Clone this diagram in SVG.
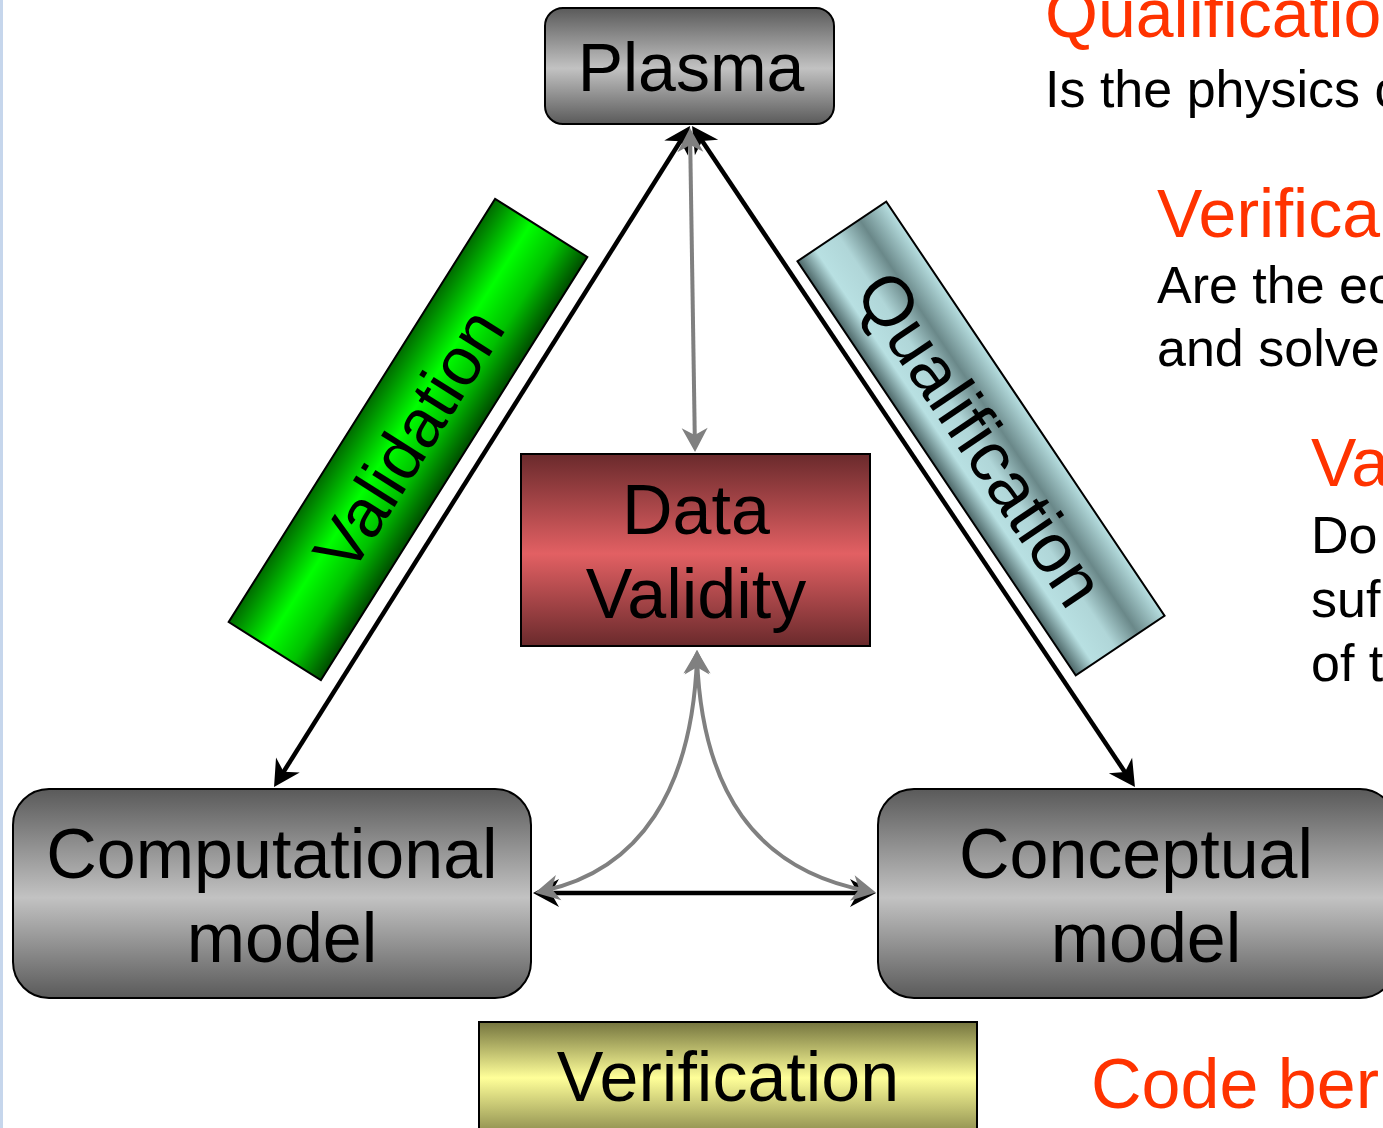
<svg xmlns="http://www.w3.org/2000/svg" width="1383" height="1128" viewBox="0 0 1383 1128">
  <style>
    text { font-family: "Liberation Sans", Arial, sans-serif; }
    .label { font-size: 70px; text-anchor: middle; fill: #000; }
    .box { stroke: #000; stroke-width: 2; }
    .title { font-size: 68px; fill: #ff3300; }
    .body { font-size: 52px; fill: #000; }
    .link { fill: none; stroke: #000; stroke-width: 4.5; marker-start: url(#headBlack); marker-end: url(#headBlack); }
    .flow { fill: none; stroke: #808080; stroke-width: 4; marker-start: url(#headGray); marker-end: url(#headGray); }
  </style>
  <defs>
    <linearGradient id="gradGray" x1="0" y1="0" x2="0" y2="1">
      <stop offset="0" stop-color="#5a5a5a"/>
      <stop offset="0.52" stop-color="#c2c2c2"/>
      <stop offset="1" stop-color="#5a5a5a"/>
    </linearGradient>
    <linearGradient id="gradRed" x1="0" y1="0" x2="0" y2="1">
      <stop offset="0" stop-color="#6a2a2c"/>
      <stop offset="0.52" stop-color="#e26063"/>
      <stop offset="1" stop-color="#6a2a2c"/>
    </linearGradient>
    <linearGradient id="gradYellow" x1="0" y1="0" x2="0" y2="1">
      <stop offset="0" stop-color="#74743e"/>
      <stop offset="0.45" stop-color="#ffff99"/>
      <stop offset="1" stop-color="#74743e"/>
    </linearGradient>
    <linearGradient id="gradGreen" x1="0" y1="0" x2="0" y2="1">
      <stop offset="0" stop-color="#006a00"/>
      <stop offset="0.4" stop-color="#00ff00"/>
      <stop offset="0.7" stop-color="#00c000"/>
      <stop offset="1" stop-color="#004c00"/>
    </linearGradient>
    <linearGradient id="gradTeal" x1="0" y1="0" x2="0" y2="1">
      <stop offset="0" stop-color="#b8e0e2"/>
      <stop offset="0.3" stop-color="#6a8889"/>
      <stop offset="0.55" stop-color="#b0d6d8"/>
      <stop offset="0.8" stop-color="#b8e0e2"/>
      <stop offset="1" stop-color="#4c6667"/>
    </linearGradient>
    <marker id="headBlack" viewBox="-28 -16 38 32" markerWidth="38" markerHeight="32" refX="-8" refY="0" orient="auto-start-reverse" markerUnits="userSpaceOnUse">
      <path d="M0,0 L-26,-14 L-18,0 L-26,14 Z" fill="#000"/>
    </marker>
    <marker id="headGray" viewBox="-28 -16 38 32" markerWidth="38" markerHeight="32" refX="-8" refY="0" orient="auto-start-reverse" markerUnits="userSpaceOnUse">
      <path d="M0,0 L-24,-13 L-17,0 L-24,13 Z" fill="#808080"/>
    </marker>
  </defs>

  <rect width="1383" height="1128" fill="#fff"/>
  <rect x="0" y="0" width="3" height="1128" fill="#c6d6ec"/>

  <!-- side notes -->
  <g id="notes">
    <text class="title" x="1045" y="37">Qualificatio</text>
    <text class="body" x="1045" y="107">Is the physics c</text>
    <text class="title" x="1157" y="237">Verifica</text>
    <text class="body" x="1157" y="303">Are the ec</text>
    <text class="body" x="1157" y="366">and solve</text>
    <text class="title" x="1311" y="486">Va</text>
    <text class="body" x="1311" y="553">Do</text>
    <text class="body" x="1311" y="617">suf</text>
    <text class="body" x="1311" y="681">of t</text>
    <text class="title" x="1091" y="1108" style="font-size:70px">Code ber</text>
  </g>

  <!-- banners -->
  <g id="validation" transform="rotate(-57.8 408 439.5)">
    <rect class="box" x="158" y="385" width="500" height="109" fill="url(#gradGreen)" stroke-width="1.5"/>
    <text class="label" x="408" y="464" style="font-size:68px">Validation</text>
  </g>
  <g id="qualification" transform="rotate(56.1 981 438.5)">
    <rect class="box" x="731.5" y="385" width="499" height="107" fill="url(#gradTeal)" stroke-width="1.5"/>
    <text class="label" x="981" y="463" style="font-size:70px">Qualification</text>
  </g>

  <!-- connectors -->
  <g id="connectors">
    <path class="link" d="M685.7,132.8 L278.3,780.2"/>
    <path class="link" d="M696.5,132.6 L1130.5,780.4"/>
    <path class="link" d="M541,893 L868,893"/>
    <path class="flow" d="M690.1,136 L694.9,444"/>
    <path class="flow" d="M697,658 C692,790 640,870 543,891"/>
    <path class="flow" d="M697,658 C702,790 755,870 868,891"/>
  </g>

  <!-- nodes -->
  <g id="plasma">
    <rect class="box" x="545" y="8" width="289" height="116" rx="18" fill="url(#gradGray)"/>
    <text class="label" x="691" y="91" style="font-size:68px">Plasma</text>
  </g>
  <g id="data-validity">
    <rect class="box" x="521" y="454" width="349" height="192" fill="url(#gradRed)"/>
    <text class="label" x="696" y="534">Data</text>
    <text class="label" x="696" y="618">Validity</text>
  </g>
  <g id="computational-model">
    <rect class="box" x="13" y="789" width="518" height="209" rx="36" fill="url(#gradGray)"/>
    <text class="label" x="272" y="878">Computational</text>
    <text class="label" x="282" y="962">model</text>
  </g>
  <g id="conceptual-model">
    <rect class="box" x="878" y="789" width="518" height="209" rx="36" fill="url(#gradGray)"/>
    <text class="label" x="1136" y="878">Conceptual</text>
    <text class="label" x="1146" y="962">model</text>
  </g>
  <g id="verification">
    <rect class="box" x="479" y="1022" width="498" height="124" fill="url(#gradYellow)"/>
    <text class="label" x="728" y="1101">Verification</text>
  </g>
</svg>
